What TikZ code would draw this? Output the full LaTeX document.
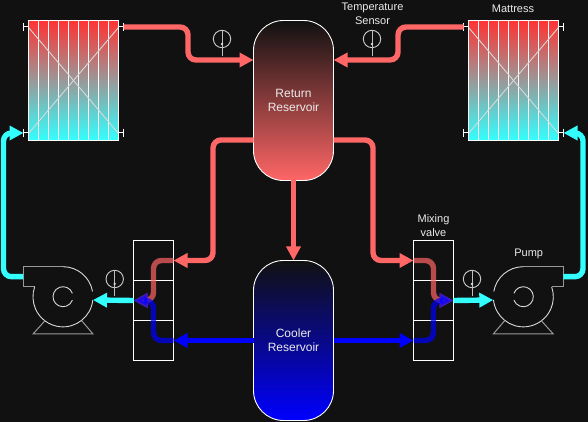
\documentclass[tikz,border=0pt]{standalone}
\usepackage{fontspec}
\setmainfont{Liberation Sans}
\usetikzlibrary{arrows.meta}

\definecolor{backcol}{HTML}{111111}
\definecolor{hotcol}{HTML}{FF6666}
\definecolor{coldcol}{HTML}{0000FF}
\definecolor{cyancol}{HTML}{33FFFF}

\newcommand{\mattress}[3]{
\begin{scope}[shift={(#1,#2)}]
\node[matbox] (#3) at (0,0) {};
% Ribs
\foreach \x in {-35,-25,...,35}
  \draw[white, line width=1pt] (\x,60) -- (\x,-60);
% Cross
\draw[white!85!black, line width=0.9pt] (-45,53) -- (45,-53);
\draw[white!85!black, line width=0.9pt] (-45,-53) -- (45,53);
% Ports
\coordinate (#3a) at (-50,53.5);
\coordinate (#3b) at (-50,-52.5);
\coordinate (#3c) at (50,53.5);
\coordinate (#3d) at (50,-52.5);
\draw[white, line width=1pt] (-50,57.5) -- (-50,49.5);
\draw[white, line width=1pt] (-50,-48.5) -- (-50,-56.5);
\draw[white, line width=1pt] (50,57.5) -- (50,49.5);
\draw[white, line width=1pt] (50,-48.5) -- (50,-56.5);
\draw[white, line width=1pt] (#3a) -- ++(5,0);
\draw[white, line width=1pt] (#3b) -- ++(5,0);
\draw[white, line width=1pt] (#3c) -- ++(-5,0);
\draw[white, line width=1pt] (#3d) -- ++(-5,0);
\node[matframe] at (0,0) {};
\end{scope}
}

\newcommand{\valve}[3]{
\begin{scope}[shift={(#1,#2)}]
\node[cellbox] (#3a) at (0,40) {};
\node[cellbox] (#3b) at (0,0) {};
\node[cellbox] (#3c) at (0,-40) {};
\end{scope}
}

\newcommand{\sensor}[3]{
\begin{scope}[shift={(#1,#2)}]
\node[bulb] (#3) at (0,0) {};
\draw[white!75!black, line width=1pt] (0,8.7) -- (0,-17);
\fill[white!85!black] (0,-5) circle (1.3);
\end{scope}
}

\newcommand{\pump}[4]{
\begin{scope}[shift={(#1,#2)}, xscale=#3]
% Casing
\draw[white!60!black, line width=1pt] (0,30) -- (-40,30) -- (-40,10) -- (-28.3,10);
\draw[white!85!black, line width=0.9pt] (0,30) arc (90:10:30);
\draw[white!85!black, line width=0.9pt] (29.8,-3.3) arc (-6:-199.5:30);
% Impeller
\draw[white!85!black, line width=0.9pt] (9.4,3.4) arc (20:340:10);
% Feet
\draw[white!60!black, line width=1pt] (-18,-24) -- (-30,-37.3) -- (30,-37.3) -- (18.7,-24);
\coordinate (#4out) at (-40,20);
\coordinate (#4in) at (30,-3.3);
\end{scope}
}

\begin{document}
\begin{tikzpicture}[
    x=1pt, y=1pt,
    every node/.style={text=white!92!black, font=\fontsize{11}{14}\selectfont, align=center},
    matbox/.style={
        rectangle,
        top color=red!80!white,
        bottom color=cyancol,
        middle color=white!60!black,
        minimum width=90pt,
        minimum height=120pt,
        inner sep=0pt,
        outer sep=0pt
    },
    matframe/.style={
        rectangle,
        draw=white,
        line width=1pt,
        minimum width=90pt,
        minimum height=120pt,
        inner sep=0pt,
        outer sep=0pt
    },
    tank/.style={
        rectangle,
        draw=white,
        line width=0.9pt,
        rounded corners=30pt,
        minimum width=80pt,
        minimum height=160pt,
        inner sep=0pt,
        outer sep=0pt,
        font=\fontsize{12}{14}\selectfont
    },
    cellbox/.style={
        rectangle,
        draw=white,
        line width=1pt,
        minimum size=40pt,
        inner sep=0pt,
        outer sep=0pt
    },
    bulb/.style={
        circle,
        draw=white!80!black,
        line width=0.9pt,
        minimum size=17.4pt,
        inner sep=0pt
    },
    pipe/.style={
        line width=5.4pt,
        rounded corners=8pt,
        -{Triangle[length=14pt,width=14pt]}
    },
    mixpipe/.style={pipe, opacity=0.7}
]

\useasboundingbox (0,0) rectangle (588,422);
\fill[backcol] (0,0) rectangle (588,422);

% Reservoirs
\node[tank, top color=backcol, bottom color=hotcol] (ret) at (293.5,321.5) {Return\\Reservoir};
\node[tank, top color=backcol, bottom color=coldcol] (cool) at (293.5,81.5) {Cooler\\Reservoir};

\coordinate (retinL) at (253.5,362);
\coordinate (retinR) at (333.5,362);
\coordinate (retoutL) at (253.5,282);
\coordinate (retoutR) at (333.5,282);

% Mattresses
\mattress{73.5}{341.5}{matL}
\mattress{513.5}{341.5}{matR}

% Valves
\valve{153.5}{121.5}{valL}
\valve{433.5}{121.5}{valR}

% Pumps
\pump{63}{125.3}{1}{pumpL}
\pump{523.3}{125.3}{-1}{pumpR}

% Sensors
\sensor{222}{383}{senA}
\sensor{372}{383}{senB}
\sensor{114.7}{143}{senC}
\sensor{472}{143}{senD}

% Labels
\node (lblsen) at (372.5,408) {Temperature\\Sensor};
\node (lblmat) at (513,413) {Mattress};
\node (lblmix) at (433.5,196) {Mixing\\valve};
\node (lblpump) at (528.7,168) {Pump};

% Return lines
\draw[pipe, hotcol] (matLc) -- (188,395) |- (retinL);
\draw[pipe, hotcol] (matRa) -- (398,395) |- (retinR);
\draw[pipe, hotcol] (retoutL) -- (213,282) |- (valLa.east);
\draw[pipe, hotcol] (retoutR) -- (373,282) |- (valRa.west);
\draw[pipe, hotcol] (ret.south) -- (cool.north);

% Cooler lines
\draw[pipe, coldcol] (cool.west) -- (valLc.east);
\draw[pipe, coldcol] (cool.east) -- (valRc.west);

% Inside the valves
\draw[mixpipe, hotcol] (valLa.east) -- (153.5,161.5) |- (valLb.west);
\draw[mixpipe, coldcol] (valLc.east) -- (153.5,81.5) |- (valLb.west);
\draw[mixpipe, hotcol] (valRa.west) -- (433.5,161.5) |- (valRb.east);
\draw[mixpipe, coldcol] (valRc.west) -- (433.5,81.5) |- (valRb.east);

% Supply lines
\draw[pipe, cyancol] (valLb.west) -- (pumpLin);
\draw[pipe, cyancol] (valRb.east) -- (pumpRin);
\draw[pipe, cyancol] (pumpLout) -- (3.5,145.3) |- (matLb);
\draw[pipe, cyancol] (pumpRout) -- (583,145.3) |- (matRd);

\end{tikzpicture}
\end{document}
